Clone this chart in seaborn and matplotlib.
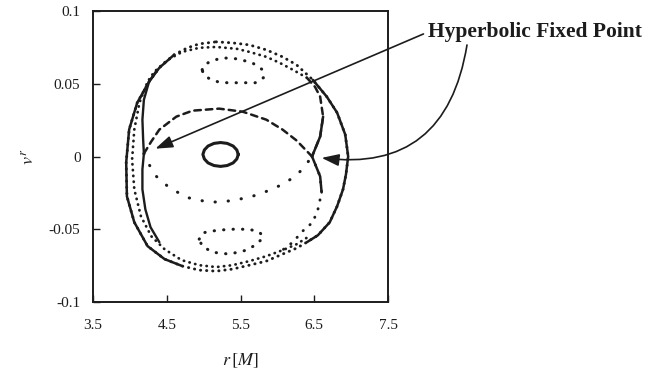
import matplotlib
matplotlib.use("Agg")
import matplotlib.pyplot as plt
import pandas as pd
import seaborn as sns

# ---- Poincare section data: radius r [M] and radial velocity v^r ----
# outermost invariant curve
outer_r = [5.17, 5.39, 5.62, 5.85, 6.07, 6.26, 6.48, 6.67, 6.81, 6.92, 6.96, 6.93,
           6.89, 6.81, 6.71, 6.55, 6.40, 6.26, 6.07, 5.85, 5.62, 5.39, 5.17, 4.94,
           4.71, 4.47, 4.24, 4.06, 3.96, 3.95, 3.99, 4.10, 4.26, 4.40, 4.60, 4.78,
           4.94, 5.17]
outer_v = [0.0788, 0.0781, 0.0767, 0.0733, 0.0685, 0.0630, 0.0527, 0.0411, 0.0301,
           0.0151, 0.0000, -0.0123, -0.0226, -0.0342, -0.0452, -0.0541, -0.0589,
           -0.0630, -0.0671, -0.0719, -0.0747, -0.0774, -0.0788, -0.0781, -0.0753,
           -0.0705, -0.0616, -0.0452, -0.0274, -0.0041, 0.0185, 0.0370, 0.0514,
           0.0610, 0.0699, 0.0747, 0.0774, 0.0788]

# chaotic layer just inside the outer curve
layer_r = [6.40, 6.21, 6.03, 5.85, 5.62, 5.45, 5.17, 4.94, 4.71, 4.51, 4.33, 4.24,
           4.13, 4.06, 4.03, 4.06, 4.15, 4.29, 4.47, 4.70, 4.94, 5.17, 5.39, 5.62,
           5.85, 6.07, 6.26, 6.41]
layer_v = [0.0541, 0.0596, 0.0644, 0.0685, 0.0719, 0.0740, 0.0753, 0.0747, 0.0719,
           0.0664, 0.0582, 0.0514, 0.0370, 0.0185, -0.0021, -0.0226, -0.0411,
           -0.0548, -0.0637, -0.0712, -0.0747, -0.0760, -0.0747, -0.0719, -0.0685,
           -0.0644, -0.0603, -0.0555]

# hyperbolic fixed points
fixed_r = [4.19, 6.47]
fixed_v = [0.002, 0.0]

# separatrix branches
sep_left_r = [4.37, 4.26, 4.19, 4.17, 4.18, 4.19, 4.17, 4.17, 4.21, 4.28, 4.40]
sep_left_v = [0.0596, 0.0514, 0.0390, 0.0253, 0.0116, 0.002, -0.0089, -0.0226,
              -0.0363, -0.0486, -0.0589]

sep_right_r = [6.40, 6.51, 6.58, 6.62, 6.58, 6.47, 6.58, 6.60, 6.55, 6.48, 6.34,
               6.21, 6.03]
sep_right_v = [0.0541, 0.0479, 0.0411, 0.0274, 0.0137, 0.0, -0.0137, -0.0247,
               -0.0363, -0.0452, -0.0514, -0.0589, -0.0658]

sep_upper_r = [4.19, 4.29, 4.40, 4.63, 4.85, 5.21, 5.53, 5.85, 6.07, 6.26, 6.47]
sep_upper_v = [0.002, 0.0103, 0.0185, 0.0274, 0.0315, 0.0329, 0.0308, 0.0253,
               0.0185, 0.0110, 0.0]

sep_lower_r = [4.19, 4.26, 4.36, 4.53, 4.77, 5.08, 5.31, 5.62, 5.85, 6.07, 6.26,
               6.37, 6.47]
sep_lower_v = [0.002, -0.0055, -0.0137, -0.0212, -0.0281, -0.0315, -0.0308,
               -0.0281, -0.0240, -0.0192, -0.0130, -0.0068, 0.0]

# central elliptic orbit
core_r = [5.47, 5.45, 5.40, 5.32, 5.23, 5.14, 5.06, 5.01, 4.99, 5.01, 5.06, 5.14,
          5.23, 5.32, 5.40, 5.45, 5.47]
core_v = [0.0014, 0.0045, 0.0072, 0.0090, 0.0096, 0.0090, 0.0072, 0.0045, 0.0014,
          -0.0017, -0.0044, -0.0062, -0.0068, -0.0062, -0.0044, -0.0017, 0.0014]

# resonant islands above and below
isl_top_r = [4.98, 5.01, 5.11, 5.26, 5.46, 5.66, 5.80, 5.81, 5.70, 5.49, 5.32,
             5.19, 5.08, 5.00, 4.98]
isl_top_v = [0.0596, 0.0630, 0.0658, 0.0678, 0.0671, 0.0644, 0.0596, 0.0541,
             0.0507, 0.0507, 0.0507, 0.0514, 0.0534, 0.0562, 0.0596]

isl_bot_r = [4.94, 4.98, 5.08, 5.21, 5.35, 5.49, 5.62, 5.76, 5.81, 5.72, 5.58,
             5.35, 5.12, 4.98, 4.94]
isl_bot_v = [-0.0568, -0.0527, -0.0514, -0.0507, -0.0500, -0.0500, -0.0500,
             -0.0521, -0.0555, -0.0603, -0.0644, -0.0671, -0.0658, -0.0616, -0.0568]

# axes ticks
r_ticks = [3.5, 4.5, 5.5, 6.5, 7.5]
r_tick_labels = ["3.5", "4.5", "5.5", "6.5", "7.5"]
v_ticks = [-0.1, -0.05, 0.0, 0.05, 0.1]
v_tick_labels = ["-0.1", "-0.05", "0", "0.05", "0.1"]

INK = "#1c1c1c"
SOLID = "-"
DOTS = (0, (0.1, 2.0))
DOTS_WIDE = (0, (0.1, 3.0))
DOTS_SPARSE = (0, (0.1, 4.2))
DASHES = (0, (2.6, 2.0))

sns.set_style("white", {"axes.edgecolor": INK})
plt.rcParams["font.family"] = ["Liberation Serif", "DejaVu Serif"]
plt.rcParams["mathtext.fontset"] = "stix"
plt.rcParams["axes.unicode_minus"] = False

fig = plt.figure(figsize=(6.51, 3.70), dpi=100)
ax = fig.add_axes([93 / 651, 1 - 302 / 370, 295 / 651, 291 / 370])


def trace(r, v, style, lw):
    frame = pd.DataFrame({"r": r, "v": v})
    sns.lineplot(data=frame, x="r", y="v", sort=False, estimator=None, ax=ax,
                 color=INK, linestyle=style, linewidth=lw, legend=False,
                 dash_capstyle="round", solid_capstyle="round",
                 solid_joinstyle="round")


# outermost curve: sparse on top/bottom, dense on both flanks
trace(outer_r, outer_v, DOTS, 2.1)
trace(outer_r[6:17], outer_v[6:17], SOLID, 1.8)
trace(outer_r[24:35], outer_v[24:35], SOLID, 1.8)

# chaotic layer
trace(layer_r, layer_v, DOTS, 2.0)

# separatrices through the hyperbolic points
trace(sep_left_r, sep_left_v, SOLID, 1.7)
trace(sep_right_r[:6], sep_right_v[:6], DASHES, 1.8)
trace(sep_right_r[5:], sep_right_v[5:], DOTS_WIDE, 2.1)
trace(sep_right_r[3:8], sep_right_v[3:8], SOLID, 1.8)
trace(sep_upper_r, sep_upper_v, DASHES, 1.8)
trace(sep_lower_r, sep_lower_v, DOTS_SPARSE, 2.2)

# central orbit and islands
trace(core_r, core_v, SOLID, 2.2)
trace(isl_top_r, isl_top_v, DOTS_WIDE, 2.2)
trace(isl_bot_r, isl_bot_v, DOTS_WIDE, 2.2)

ax.set_xlim(r_ticks[0], r_ticks[-1])
ax.set_ylim(v_ticks[0], v_ticks[-1])
ax.set_xticks(r_ticks)
ax.set_xticklabels(r_tick_labels)
ax.set_yticks(v_ticks)
ax.set_yticklabels(v_tick_labels)
ax.tick_params(axis="both", direction="in", length=5, width=1.0, color=INK,
               labelsize=11, labelcolor=INK, bottom=True, left=True,
               top=False, right=False)
ax.tick_params(axis="x", pad=12)
ax.tick_params(axis="y", pad=9)
for spine in ax.spines.values():
    spine.set_linewidth(1.4)
    spine.set_color(INK)

ax.set_xlabel(r"$r\,[M]$", fontsize=13, color=INK, labelpad=14)
ax.set_ylabel(r"$v^r$", fontsize=13, color=INK, labelpad=8)

head = "-|>,head_length=0.75,head_width=0.26"
ax.annotate("Hyperbolic Fixed Point", xy=(fixed_r[0], fixed_v[0]), xycoords="data",
            xytext=(428, 338), textcoords="figure pixels", ha="left", va="center",
            fontsize=15.5, fontweight="bold", color=INK,
            arrowprops=dict(arrowstyle=head, color=INK, lw=1.2, shrinkA=1,
                            shrinkB=9, relpos=(0, 0.5), mutation_scale=14))
ax.annotate("", xy=(fixed_r[1], fixed_v[1]), xycoords="data",
            xytext=(467, 325), textcoords="figure pixels",
            arrowprops=dict(arrowstyle=head, color=INK, lw=1.2, shrinkA=0,
                            shrinkB=7, mutation_scale=14,
                            connectionstyle="arc3,rad=-0.5"))

fig.savefig("out.png", dpi=100)
